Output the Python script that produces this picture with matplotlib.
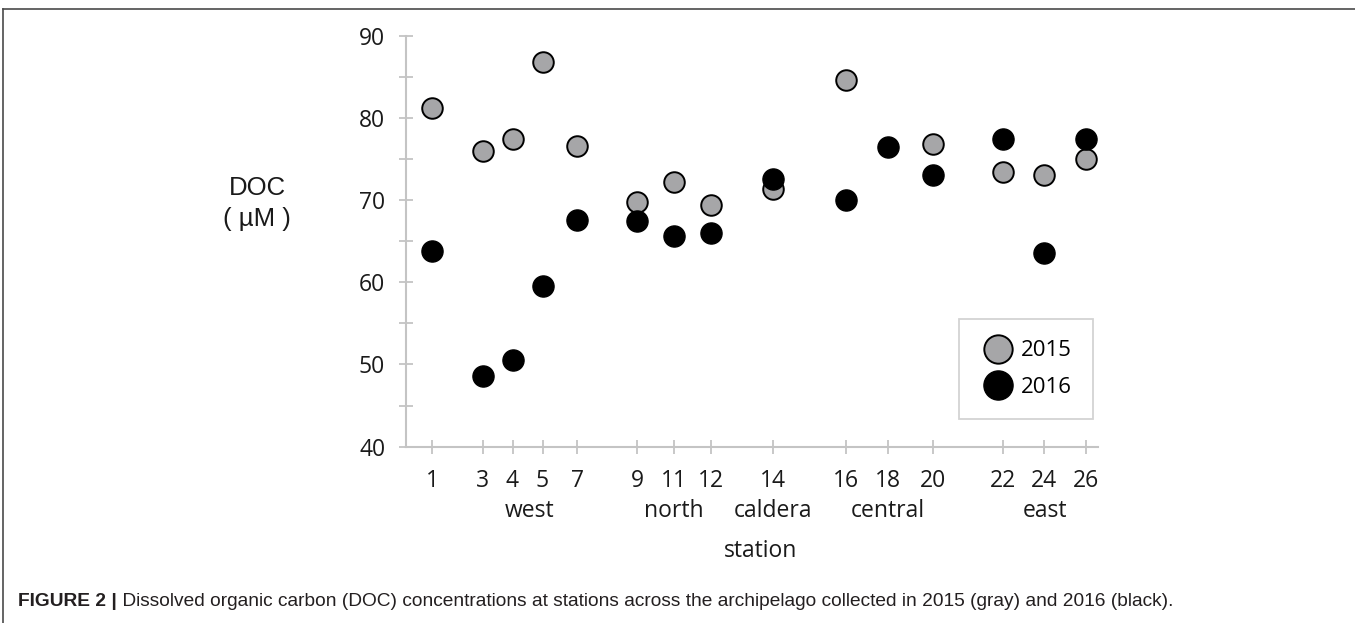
import numpy as np
import matplotlib
matplotlib.use("Agg")
from matplotlib import pyplot as plt
from matplotlib.lines import Line2D

# stations and their position along the x axis (uneven spacing, as in the figure)
stations = ["1", "3", "4", "5", "7", "9", "11", "12", "14", "16", "18", "20", "22", "24", "26"]
station_axis_pos = [2.6, 7.65, 10.65, 13.65, 17.15, 23.15, 26.8, 30.5, 36.7, 44.0, 48.2, 52.7, 59.7, 63.8, 68.0]

doc_2015 = [81.2, 76.0, 77.4, 86.8, 76.6, 69.8, 72.2, 69.4, 71.4, 84.6, np.nan, 76.8, 73.4, 73.0, 75.0]
doc_2016 = [63.8, 48.6, 50.5, 59.6, 67.6, 67.4, 65.6, 66.0, 72.6, 70.0, 76.4, 73.0, 77.4, 63.6, 77.4]

regions = ["west", "north", "caldera", "central", "east"]
region_pos = [12.4, 26.8, 36.7, 48.2, 63.9]

W, H = 1355, 623
fig = plt.figure(figsize=(W / 100, H / 100), dpi=100)
ax = fig.add_axes([406 / W, 1 - 446.7 / H, 692 / W, 411 / H])

tick_font = "Open Sans"
axis_grey = "#c4c4c4"
txt_col = "#1a1a1a"

ax.plot(station_axis_pos, doc_2015, "o", ms=14.8, mfc="#a6a6a8", mec="black", mew=1.4,
        label="2015", zorder=3)
ax.plot(station_axis_pos, doc_2016, "o", ms=15.2, mfc="black", mec="black", mew=1.0,
        label="2016", zorder=4)

ax.set_xlim(0, 69.2)
ax.set_ylim(40, 90)
ax.set_xticks(station_axis_pos)
ax.set_xticklabels(stations)
ax.set_yticks([40, 50, 60, 70, 80, 90])
ax.set_yticks([45, 55, 65, 75, 85], minor=True)

for side in ["top", "right"]:
    ax.spines[side].set_visible(False)
for side in ["left", "bottom"]:
    ax.spines[side].set_color(axis_grey)
    ax.spines[side].set_linewidth(1.5)

ax.tick_params(axis="both", which="both", direction="inout", length=10, width=1.3,
               color=axis_grey, labelcolor=txt_col)
ax.tick_params(axis="x", pad=11)
ax.tick_params(axis="y", pad=10)
for lab in ax.get_xticklabels() + ax.get_yticklabels():
    lab.set_fontfamily(tick_font)
    lab.set_fontsize(16.5)

# region names under the station numbers
for name, xp in zip(regions, region_pos):
    ax.text(xp, -0.157, name, transform=ax.get_xaxis_transform(), ha="center", va="center",
            fontsize=16.5, family=tick_font, color=txt_col)
ax.text((761 - 406) / 692, -0.254, "station", transform=ax.transAxes, ha="center", va="center",
        fontsize=16.5, family=tick_font, color=txt_col)

# y label, horizontal in two lines
fig.text(257 / W, 1 - 188 / H, "DOC", ha="center", va="center", fontsize=18.5,
         family="Liberation Sans", color=txt_col)
fig.text(257 / W, 1 - 219 / H, "( µM )", ha="center", va="center", fontsize=18.5,
         family="Liberation Sans", color=txt_col)

leg = ax.legend(loc="lower right", bbox_to_anchor=(0.993, 0.067), markerscale=1.38,
                frameon=True, fancybox=False, edgecolor="#c8c8c8", borderpad=0.95,
                labelspacing=0.7, handletextpad=0.25, handlelength=1.6, borderaxespad=0,
                prop={"family": tick_font, "size": 16})
leg.get_frame().set_linewidth(1.3)

# figure frame lines (top and left)
fig.add_artist(Line2D([3 / W, 1], [1 - 8.5 / H, 1 - 8.5 / H], transform=fig.transFigure,
                      color="#4a4a4a", lw=1.2))
fig.add_artist(Line2D([3 / W, 3 / W], [0, 1 - 8.5 / H], transform=fig.transFigure,
                      color="#4a4a4a", lw=1.2))

# caption
cap_font = ["Liberation Sans Narrow", "Liberation Sans"]
t1 = fig.text(18 / W, 1 - 606 / H, "FIGURE 2 |", fontsize=13.8, fontweight="bold",
              family=cap_font, color="#231f20", va="baseline")
ax.annotate(" Dissolved organic carbon (DOC) concentrations at stations across the archipelago "
            "collected in 2015 (gray) and 2016 (black).",
            xy=(1, 0), xycoords=t1, va="bottom", ha="left", fontsize=13.8,
            family=cap_font, color="#231f20", annotation_clip=False)

fig.savefig("out.png", dpi=100)
